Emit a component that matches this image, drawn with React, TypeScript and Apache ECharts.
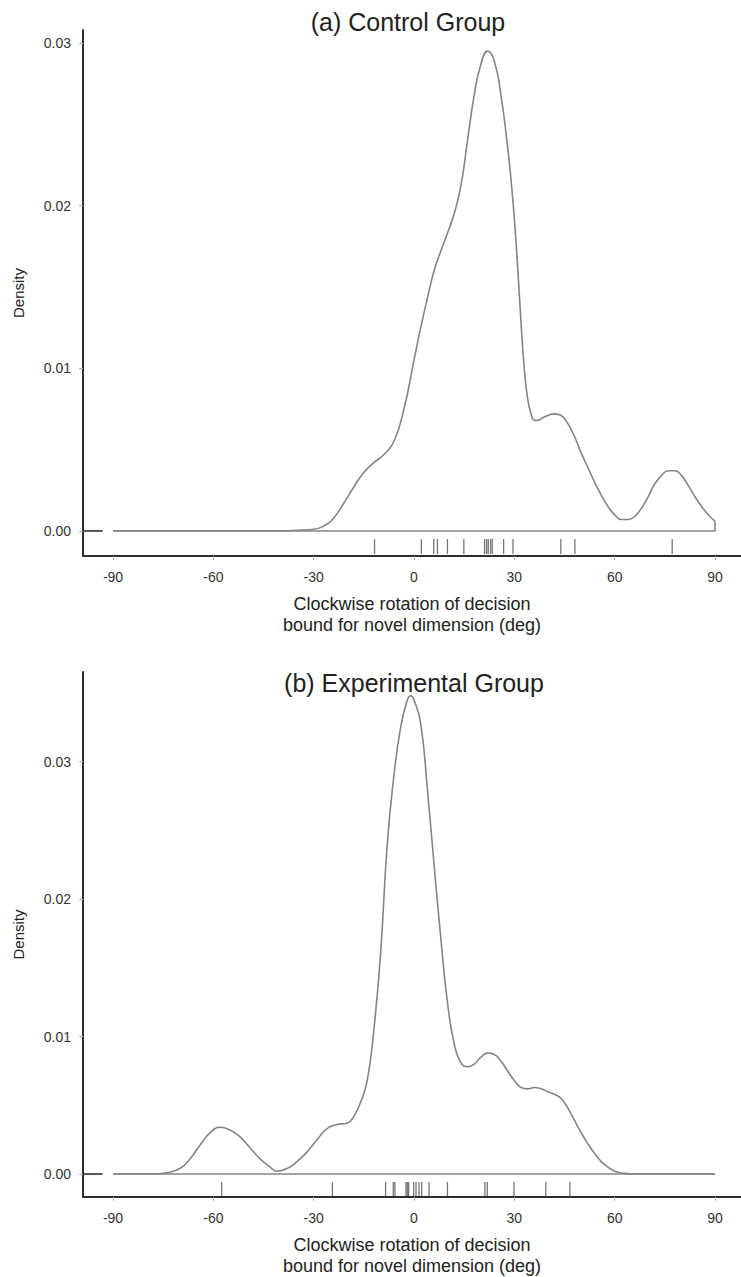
import React, { useEffect, useRef } from "react";
import * as echarts from "echarts";

const xTicks = [-90, -60, -30, 0, 30, 60, 90];
const yTicks = [0, 0.01, 0.02, 0.03];

const controlAngles = [
  -90, -40, -34, -30, -27, -24, -21, -18, -15, -12, -9, -6, -3,
  0, 2, 4, 6, 8, 10, 12, 14, 16, 18, 20, 22, 24, 26, 28, 29, 30, 31, 32, 33, 34, 35, 36, 37, 38,
  40, 42, 44, 46, 48, 50, 52, 54, 56, 58, 60, 62, 64, 66, 68, 70, 72, 74, 76, 78, 80,
  82, 84, 86, 88, 90,
];
const controlDensity = [
  0, 0, 0.00005, 0.0001, 0.0003, 0.0008, 0.0017, 0.0027, 0.0036, 0.0042, 0.0047, 0.0055, 0.0075,
  0.0105, 0.0125, 0.0143, 0.016, 0.0172, 0.0183, 0.0195, 0.0212, 0.024, 0.0268, 0.0287, 0.0295,
  0.0289, 0.0268, 0.0236, 0.0216, 0.0192, 0.0162, 0.0128, 0.0099, 0.0081, 0.0072, 0.0068, 0.0068,
  0.0069, 0.0071, 0.0072, 0.0071, 0.0066, 0.0058, 0.0048, 0.0039, 0.003, 0.0022, 0.0015, 0.001,
  0.0007, 0.0007, 0.0009, 0.0014, 0.0021, 0.0029, 0.0034, 0.0037, 0.0037, 0.0034, 0.0028, 0.0021,
  0.0015, 0.001, 0.0006,
];
const controlRug = [
  -11.8, 2.2, 5.9, 7.0, 10.0, 14.9, 21.1, 21.7, 22.2, 22.9, 23.4, 26.8, 29.6, 43.9, 48.1, 77.2,
];

const experimentalAngles = [
  -90, -78, -74, -70, -67, -64, -61, -58, -55, -52, -49, -46, -43, -41, -38, -35, -32, -29, -26,
  -23, -20, -18, -16, -14, -12, -10, -8, -6, -4, -2, -1, 0, 2, 4, 6, 8, 10, 12, 14, 16, 18, 20,
  22, 24, 26, 28, 30, 32, 34, 36, 38, 40, 42, 44, 46, 48, 50, 52, 54, 56, 58, 60, 63, 66, 90,
];
const experimentalDensity = [
  0, 0, 0.0001, 0.0004, 0.0011, 0.0021, 0.003, 0.0034, 0.0032, 0.0027, 0.0019, 0.0011, 0.0005,
  0.0002, 0.0004, 0.0009, 0.0016, 0.0025, 0.0033, 0.0036, 0.0037, 0.0042, 0.0052, 0.0068, 0.0105,
  0.016, 0.024, 0.029, 0.0325, 0.0345, 0.0348, 0.0345, 0.0328, 0.028, 0.0225, 0.0172, 0.0125,
  0.0095, 0.0081, 0.0078, 0.008, 0.0085, 0.0088, 0.0087, 0.0082, 0.0075, 0.0068, 0.0063, 0.0062,
  0.0063, 0.0062, 0.006, 0.0058, 0.0055, 0.0048, 0.0039, 0.003, 0.0022, 0.0015, 0.0009, 0.0005,
  0.0002, 0.00005, 0, 0,
];
const experimentalRug = [
  -57.5, -24.4, -8.5, -6.2, -5.7, -2.4, -2.0, -1.6, -0.1, 0.6, 1.5, 2.3, 4.5, 10.0, 21.2, 21.9,
  29.9, 39.4, 46.6,
];

const titles = ["(a) Control Group", "(b) Experimental Group"];
const xTitle = "Clockwise rotation of decision\nbound for novel dimension (deg)";
const yTitle = "Density";

const FONT = "'Liberation Sans', Arial, Helvetica, sans-serif";
const CURVE = "#858585";
const AXIS = "#2e2e2e";

function zip(a: number[], b: number[]) {
  return a.map((x, i) => [x, b[i]]);
}

export default function App() {
  const ref = useRef<HTMLDivElement>(null);
  useEffect(() => {
    if (!ref.current) return;
    const chart = echarts.init(ref.current, null, { renderer: "svg" });

    const panels = [
      { top: 30, yMax: 0.0308, yMin: -0.00154, rugTop: -0.0005, rugBot: -0.00142, endVal: 0.0006 },
      { top: 672, yMax: 0.03653, yMin: -0.00167, rugTop: -0.00058, rugBot: -0.0016, endVal: 0 },
    ];
    const curves = [zip(controlAngles, controlDensity), zip(experimentalAngles, experimentalDensity)];
    const rugs = [controlRug, experimentalRug];

    const grid = panels.map((p) => ({ left: 83, top: p.top, width: 658, height: 526 }));
    const xAxis = panels.map((_, i) => ({
      type: "value",
      gridIndex: i,
      min: -98.97,
      max: 97.77,
      name: xTitle,
      nameLocation: "middle",
      nameGap: 37,
      nameTextStyle: { fontFamily: FONT, fontSize: 18, color: "#222", lineHeight: 21 },
      axisLine: { show: true, onZero: false, lineStyle: { color: AXIS, width: 2 } },
      axisTick: { show: true, length: 4, customValues: xTicks, lineStyle: { color: "#aaa" } },
      axisLabel: {
        customValues: xTicks,
        formatter: (v: number) => String(Math.round(v)),
        fontFamily: FONT,
        fontSize: 14,
        color: "#333",
        margin: 14,
      },
      splitLine: { show: false },
    }));
    const yAxis = panels.map((p, i) => ({
      type: "value",
      gridIndex: i,
      min: p.yMin,
      max: p.yMax,
      name: yTitle,
      nameLocation: "middle",
      nameGap: 57,
      nameTextStyle: { fontFamily: FONT, fontSize: 15, color: "#222" },
      axisLine: { show: true, onZero: false, lineStyle: { color: AXIS, width: 2 } },
      axisTick: { show: true, length: 4, customValues: yTicks, lineStyle: { color: "#aaa" } },
      axisLabel: {
        customValues: yTicks,
        formatter: (v: number) => v.toFixed(2),
        fontFamily: FONT,
        fontSize: 14,
        color: "#333",
        margin: 12,
      },
      splitLine: { show: false },
    }));

    const series: any[] = [];
    panels.forEach((p, i) => {
      series.push({
        type: "line",
        xAxisIndex: i,
        yAxisIndex: i,
        data: curves[i],
        smooth: true,
        showSymbol: false,
        silent: true,
        lineStyle: { color: CURVE, width: 1.6 },
      });
      series.push({
        type: "line",
        xAxisIndex: i,
        yAxisIndex: i,
        data: [[-90, 0], [90, 0], [90, p.endVal]],
        showSymbol: false,
        silent: true,
        lineStyle: { color: CURVE, width: 1.6 },
      });
      series.push({
        type: "line",
        xAxisIndex: i,
        yAxisIndex: i,
        data: [[-98.7, 0], [-93.1, 0]],
        showSymbol: false,
        silent: true,
        lineStyle: { color: "#555", width: 2 },
      });
      series.push({
        type: "custom",
        xAxisIndex: i,
        yAxisIndex: i,
        silent: true,
        data: rugs[i].map((v) => [v]),
        renderItem: (_params: any, api: any) => {
          const x = api.value(0);
          const a = api.coord([x, p.rugTop]);
          const b = api.coord([x, p.rugBot]);
          return {
            type: "line",
            shape: { x1: a[0], y1: a[1], x2: b[0], y2: b[1] },
            style: { stroke: "rgba(60,60,60,0.7)", lineWidth: 1.3 },
          };
        },
      });
    });

    chart.setOption({
      animation: false,
      backgroundColor: "#fff",
      grid,
      xAxis,
      yAxis,
      series,
      graphic: [
        {
          type: "text",
          x: 408,
          y: 22,
          style: { text: titles[0], fontFamily: FONT, fontSize: 25, fill: "#222", textAlign: "center", textVerticalAlign: "middle" },
        },
        {
          type: "text",
          x: 414,
          y: 683,
          style: { text: titles[1], fontFamily: FONT, fontSize: 25, fill: "#222", textAlign: "center", textVerticalAlign: "middle" },
        },
      ],
    });
    return () => chart.dispose();
  }, []);
  return (
    <div
      ref={ref}
      style={{ position: "absolute", left: 0, top: 0, width: 741, height: 1277, background: "#fff" }}
    />
  );
}
